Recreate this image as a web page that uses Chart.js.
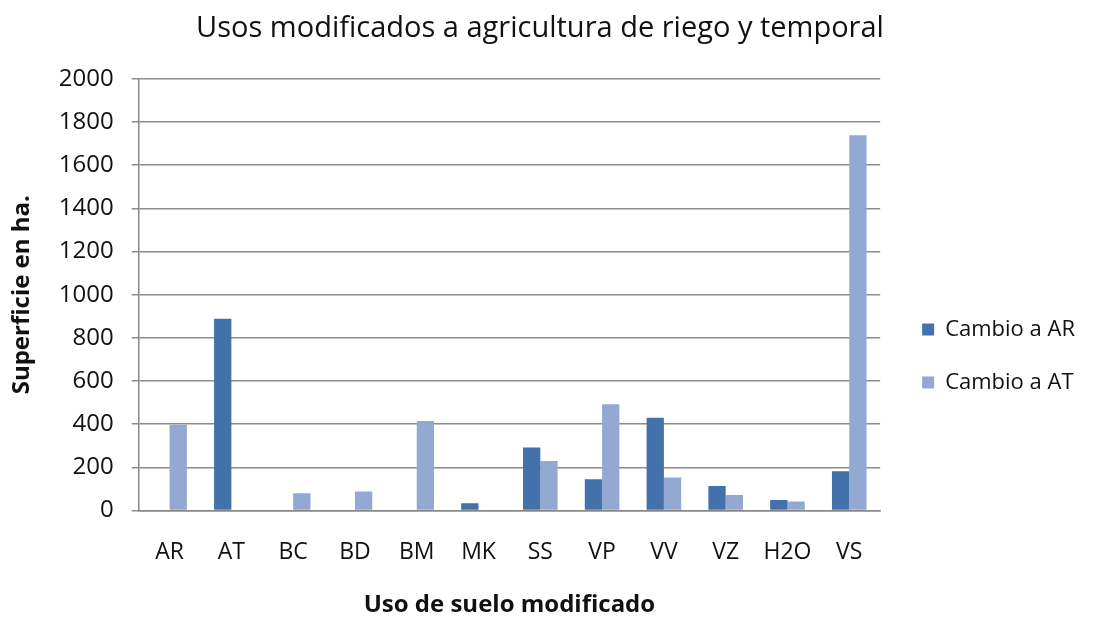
<!DOCTYPE html>
<html>
<head>
<meta charset="utf-8">
<script src="https://cdn.jsdelivr.net/npm/chart.js@4.4.1/dist/chart.umd.min.js"></script>
<style>
  html, body { margin: 0; padding: 0; background: #fff; }
  #wrap { width: 1097px; height: 624px; }
</style>
</head>
<body>
<div id="wrap"><canvas id="chart"></canvas></div>
<script>
// categories and values
var categories = ['AR', 'AT', 'BC', 'BD', 'BM', 'MK', 'SS', 'VP', 'VV', 'VZ', 'H2O', 'VS'];
var cambioAR = [0, 889, 0, 0, 0, 34, 292, 145, 430, 114, 49, 182];
var cambioAT = [398, 0, 80, 88, 415, 0, 230, 493, 153, 72, 42, 1738];
var yTicks = [0, 200, 400, 600, 800, 1000, 1200, 1400, 1600, 1800, 2000];

var font = "'Open Sans', 'DejaVu Sans', sans-serif";

// nudge the legend away from the plot and down, like the original
var legendShift = {
  id: 'legendShift',
  afterLayout: function (chart) {
    var lg = chart.legend;
    lg.left += 11; lg.right += 11;
    lg.top += 42; lg.bottom += 42;
  }
};

new Chart(document.getElementById('chart'), {
  type: 'bar',
  data: {
    labels: categories,
    datasets: [
      { label: 'Cambio a AR', data: cambioAR, backgroundColor: '#4371AB', borderWidth: 0 },
      { label: 'Cambio a AT', data: cambioAT, backgroundColor: '#93A9D1', borderWidth: 0 }
    ]
  },
  plugins: [legendShift],
  options: {
    responsive: true,
    maintainAspectRatio: false,
    animation: false,
    layout: { padding: { left: 6, right: 23, top: 4, bottom: 0 } },
    datasets: { bar: { categoryPercentage: 0.56, barPercentage: 1.0 } },
    plugins: {
      title: {
        display: true,
        text: 'Usos modificados a agricultura de riego y temporal',
        color: '#111',
        font: { family: font, size: 29, weight: '500' },
        padding: { top: 7, bottom: 33 }
      },
      legend: {
        position: 'right',
        labels: {
          color: '#111',
          font: { family: font, size: 22 },
          boxWidth: 12,
          boxHeight: 12,
          padding: 31
        }
      },
      tooltip: { enabled: false }
    },
    scales: {
      x: {
        grid: { display: false },
        border: { color: '#888', width: 1.5 },
        ticks: { color: '#111', font: { family: font, size: 23 }, padding: 20 },
        title: {
          display: true,
          text: 'Uso de suelo modificado',
          color: '#111',
          font: { family: font, size: 24, weight: 'bold' },
          padding: { top: 5 }
        }
      },
      y: {
        min: 0,
        max: 2000,
        afterBuildTicks: function (axis) {
          axis.ticks = yTicks.map(function (v) { return { value: v }; });
        },
        grid: { color: '#8c8c8c', lineWidth: 1.5, tickLength: 7, drawTicks: true },
        border: { color: '#888', width: 1.5 },
        ticks: {
          color: '#111',
          font: { family: font, size: 24 },
          padding: 18,
          callback: function (v) { return String(v); }
        },
        title: {
          display: true,
          text: 'Superficie en ha.',
          color: '#111',
          font: { family: font, size: 24, weight: 'bold' },
          padding: { top: 2, bottom: 4 }
        }
      }
    }
  }
});
</script>
</body>
</html>
